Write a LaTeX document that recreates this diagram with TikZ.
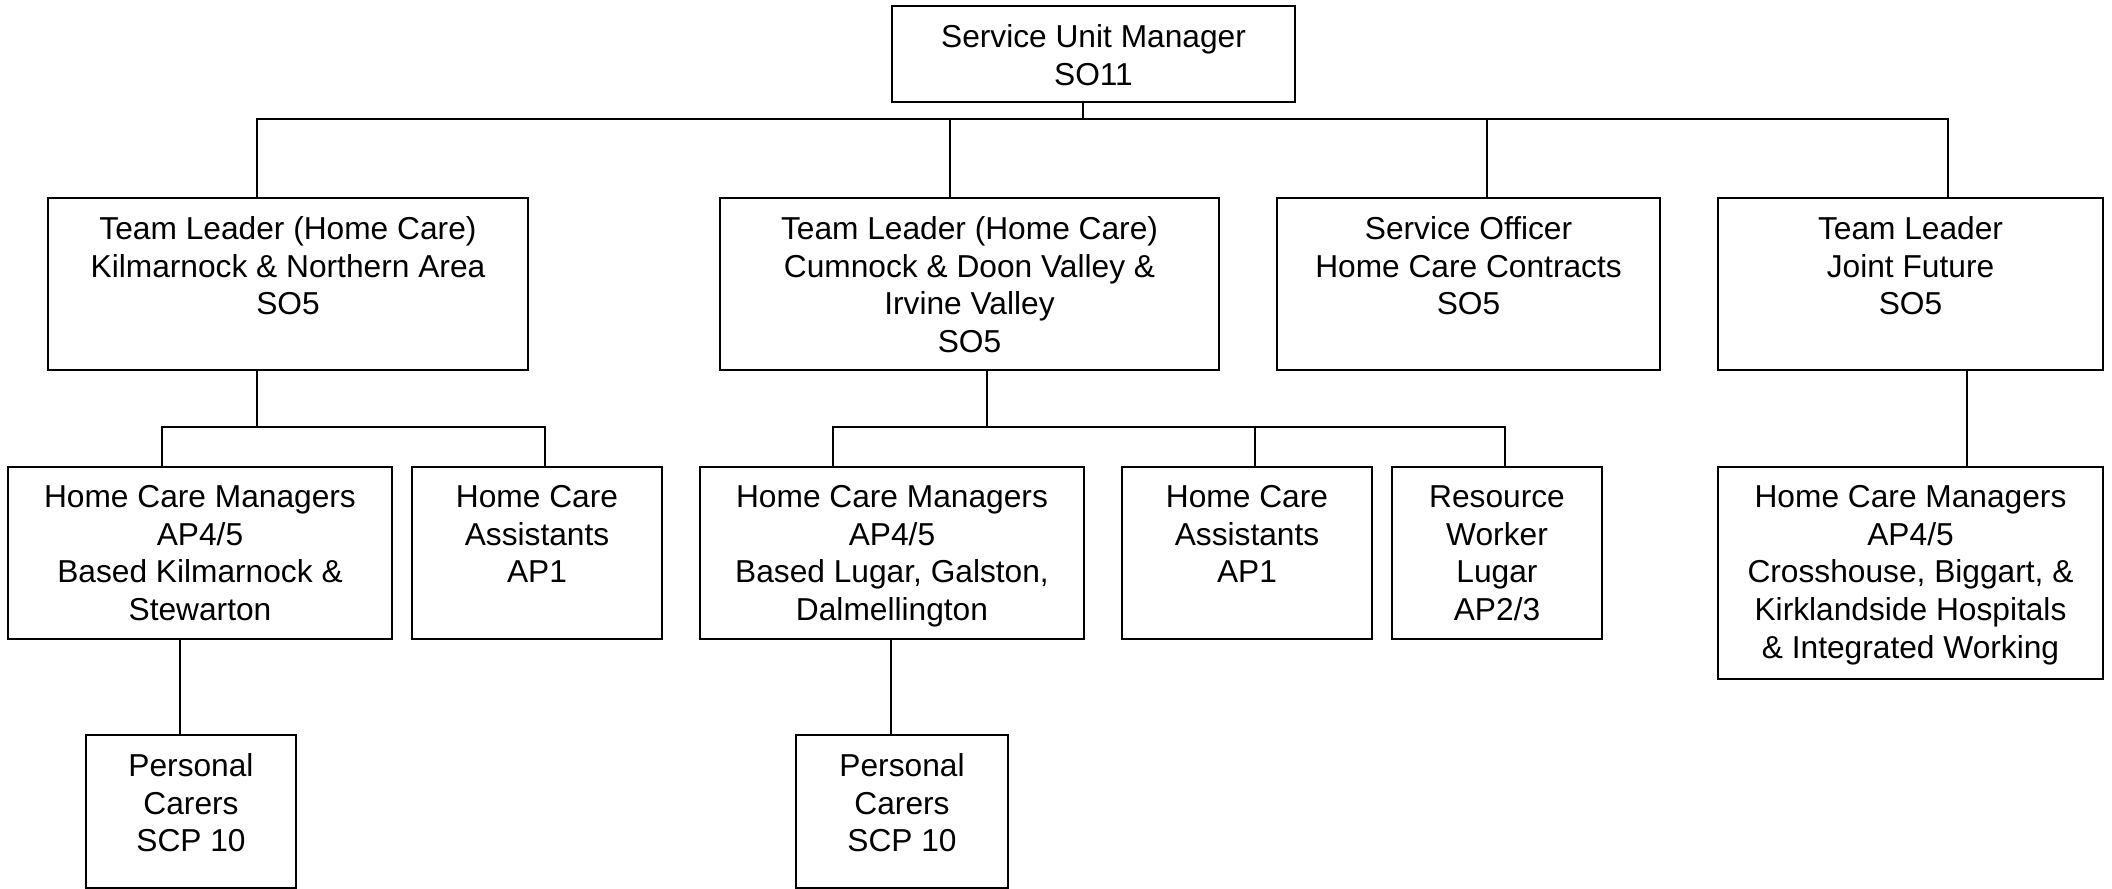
\documentclass[tikz,border=0pt]{standalone}
\usepackage{fontspec}
\setmainfont{Liberation Sans}
\newcommand\obox[6]{%
  \node[box, minimum width=#4*0.5pt, minimum height=#5*0.5pt] (#1) at (#2,#3) {};
  \node[txt] (#1t) at ([yshift=-9.6pt]#1.north) {#6};}
\begin{document}
\begin{tikzpicture}[x=0.5pt,y=-0.5pt,
  box/.style={draw, line width=1pt, rectangle, inner sep=0pt, anchor=north west},
  txt/.style={align=center, inner sep=0pt, anchor=north, font=\fontsize{15.85pt}{18.8pt}\selectfont},
  conn/.style={line width=0.75pt}]
\useasboundingbox (0,0) rectangle (2112,888);
\obox{sum}{891}{5}{403}{96}{Service Unit Manager\\SO11}
\obox{tl1}{47}{197}{480}{172}{Team Leader (Home Care)\\Kilmarnock \& Northern Area\\SO5}
\obox{tl2}{719}{197}{499}{172}{Team Leader (Home Care)\\Cumnock \& Doon Valley \&\\Irvine Valley\\SO5}
\obox{so}{1276}{197}{383}{172}{Service Officer\\Home Care Contracts\\SO5}
\obox{tl3}{1717}{197}{385}{172}{Team Leader\\Joint Future\\SO5}
\obox{hcm1}{7}{466}{384}{172}{Home Care Managers\\AP4/5\\Based Kilmarnock \&\\Stewarton}
\obox{hca1}{411}{466}{250}{172}{Home Care\\Assistants\\AP1}
\obox{hcm2}{699}{466}{384}{172}{Home Care Managers\\AP4/5\\Based Lugar, Galston,\\Dalmellington}
\obox{hca2}{1121}{466}{250}{172}{Home Care\\Assistants\\AP1}
\obox{rw}{1391}{466}{210}{172}{Resource\\Worker\\Lugar\\AP2/3}
\obox{hcm3}{1717}{466}{385}{212}{Home Care Managers\\AP4/5\\Crosshouse, Biggart, \&\\Kirklandside Hospitals\\\& Integrated Working}
\obox{pc1}{85}{734}{210}{153}{Personal\\Carers\\SCP 10}
\obox{pc2}{795}{734}{212}{153}{Personal\\Carers\\SCP 10}
% top level
\coordinate (j0) at (1083,119);
\coordinate (a1) at (257,119);
\coordinate (a2) at (950,119);
\coordinate (a3) at (1487,119);
\coordinate (a4) at (1948,119);
\draw[conn] (sum.south -| j0) -- (j0);
\draw[conn] (tl1.north -| a1) -- (a1) -- (a4) -- (tl3.north -| a4);
\draw[conn] (a2) -- (tl2.north -| a2);
\draw[conn] (a3) -- (so.north -| a3);
% TL1 group
\coordinate (b0) at (257,427);
\coordinate (b1) at (162,427);
\coordinate (b2) at (545,427);
\draw[conn] (tl1.south -| b0) -- (b0);
\draw[conn] (hcm1.north -| b1) -- (b1) -- (b2) -- (hca1.north -| b2);
% TL2 group
\coordinate (c0) at (987,427);
\coordinate (c1) at (833,427);
\coordinate (c2) at (1255,427);
\coordinate (c3) at (1505,427);
\draw[conn] (tl2.south -| c0) -- (c0);
\draw[conn] (hcm2.north -| c1) -- (c1) -- (c3) -- (rw.north -| c3);
\draw[conn] (c2) -- (hca2.north -| c2);
% TL3
\coordinate (d0) at (1967,0);
\draw[conn] (tl3.south -| d0) -- (hcm3.north -| d0);
% personal carers
\coordinate (e1) at (180,0);
\coordinate (e2) at (891,0);
\draw[conn] (hcm1.south -| e1) -- (pc1.north -| e1);
\draw[conn] (hcm2.south -| e2) -- (pc2.north -| e2);
\end{tikzpicture}
\end{document}
